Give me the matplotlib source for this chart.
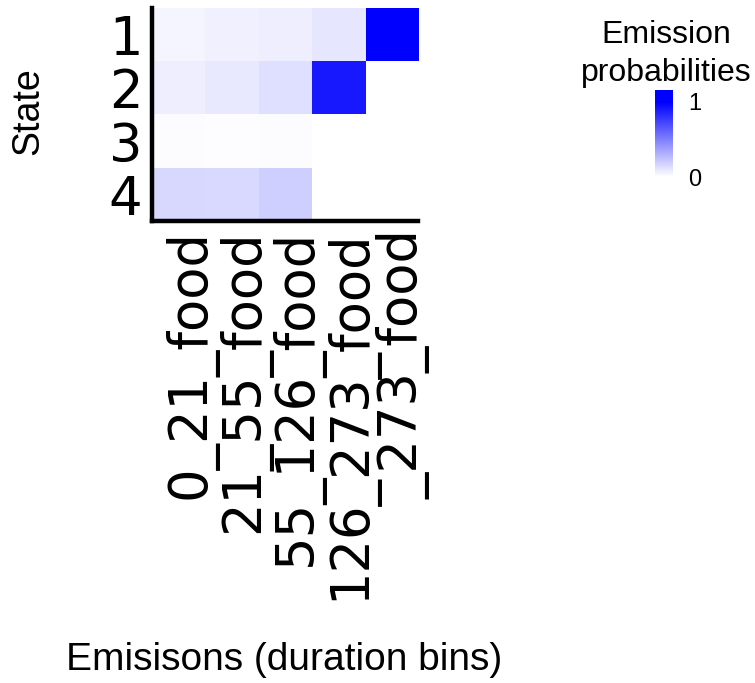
import numpy as np
import matplotlib
matplotlib.use("Agg")
import matplotlib.pyplot as plt
from matplotlib.colors import LinearSegmentedColormap, Normalize
from matplotlib.transforms import ScaledTranslation

# emission probabilities per state (rows) and duration bin (columns)
states = ["1", "2", "3", "4"]
bins = ["0_21_food", "21_55_food", "55_126_food", "126_273_food", "_273_food"]
state1 = [0.04, 0.06, 0.07, 0.10, 1.00]
state2 = [0.07, 0.09, 0.125, 0.90, np.nan]
state3 = [0.012, 0.008, 0.012, np.nan, np.nan]
state4 = [0.155, 0.15, 0.19, np.nan, np.nan]
legend_ticks = [0, 1]

probs = np.array([state1, state2, state3, state4])

W, H = 755, 683
fig = plt.figure(figsize=(W / 100, H / 100), dpi=100)

cmap = LinearSegmentedColormap.from_list("wb", ["#FFFFFF", "#0000FF"])
cmap.set_bad("white")
cmap.set_under("white")
cmap.set_over("#0000FF")
norm = Normalize(0, 1)

# heatmap panel
ax = fig.add_axes([152 / W, 1 - 221 / H, 266 / W, 213 / H])
ax.imshow(np.ma.masked_invalid(probs), cmap=cmap, norm=norm,
          aspect="auto", interpolation="nearest")
ax.set_xticks(range(len(bins)))
ax.set_xticklabels(bins, rotation=90, ha="center", va="top")
ax.set_yticks(range(len(states)))
ax.set_yticklabels(states)
ax.tick_params(axis="both", length=0, labelsize=38)
ax.tick_params(axis="y", pad=7)
ax.tick_params(axis="x", pad=6)
# nudge the rotated labels to the right like the original
shift = ScaledTranslation(12 / 100, 0, fig.dpi_scale_trans)
for lab in ax.get_xticklabels():
    lab.set_transform(lab.get_transform() + shift)
for side in ["top", "right"]:
    ax.spines[side].set_visible(False)
for side in ["left", "bottom"]:
    ax.spines[side].set_linewidth(3.2)
    ax.spines[side].set_capstyle("projecting")

fig.text(28 / W, 1 - 111 / H, "State", rotation=90, ha="center",
         va="center", fontsize=27, family="Liberation Sans")
fig.text(284 / W, 1 - 660 / H, "Emisisons (duration bins)", ha="center",
         va="center", fontsize=28, family="Liberation Sans")

# legend
fig.text(666 / W, 1 - 43 / H, "Emission", ha="center", va="baseline",
         fontsize=23, family="Liberation Sans")
fig.text(666 / W, 1 - 81 / H, "probabilities", ha="center", va="baseline",
         fontsize=23, family="Liberation Sans")

cax = fig.add_axes([655 / W, 1 - 183 / H, 18 / W, 93 / H])
lo, hi = -0.08, 1.16
grad = np.linspace(lo, hi, 300).reshape(-1, 1)
cax.imshow(grad, cmap=cmap, norm=norm, aspect="auto", origin="lower",
           extent=[0, 1, lo, hi])
cax.set_ylim(lo, hi)
cax.set_xticks([])
cax.yaxis.tick_right()
cax.set_yticks(legend_ticks)
cax.set_yticklabels([str(t) for t in legend_ticks], family="Liberation Sans")
cax.tick_params(axis="y", length=0, labelsize=17, pad=11)
for s in cax.spines.values():
    s.set_visible(False)

fig.savefig("out.png", dpi=100)
